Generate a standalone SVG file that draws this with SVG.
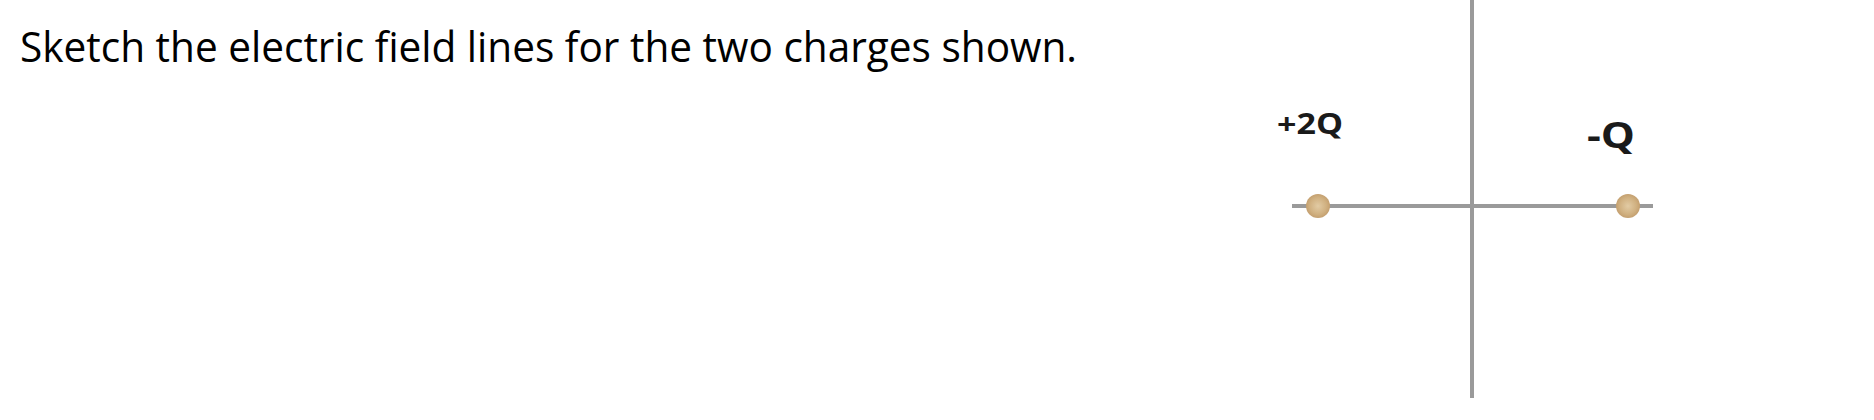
<svg xmlns="http://www.w3.org/2000/svg" width="1874" height="420" viewBox="0 0 1874 420">
  <style>
    .title { font-family: "Open Sans", "Liberation Sans", sans-serif; font-size: 42px; fill: #000; }
    .lbl { font-family: "Open Sans", "Liberation Sans", sans-serif; font-weight: bold; fill: #1a1a1a; }
    .axis { stroke: #9a9a9a; stroke-width: 4; fill: none; }
    .charge { fill: url(#cg); }
  </style>
  <defs>
    <radialGradient id="cg" cx="0.5" cy="0.5" r="0.5">
      <stop offset="0" stop-color="#e2cba4"/>
      <stop offset="0.7" stop-color="#d0b080"/>
      <stop offset="1" stop-color="#c4a070"/>
    </radialGradient>
  </defs>
  <rect width="1874" height="420" fill="#ffffff"/>
  <text class="title" x="20" y="62" textLength="1057" lengthAdjust="spacingAndGlyphs">Sketch the electric field lines for the two charges shown.</text>
  <g id="connectors">
    <line class="axis" x1="1472" y1="0" x2="1472" y2="398" stroke-width="3.5"/>
    <line class="axis" x1="1292" y1="206" x2="1653" y2="206"/>
  </g>
  <g id="charge-plus2Q">
    <circle class="charge" cx="1318" cy="206" r="12"/>
    <text class="lbl" x="1277" y="134" font-size="29" textLength="66" lengthAdjust="spacingAndGlyphs">+2Q</text>
  </g>
  <g id="charge-minusQ">
    <circle class="charge" cx="1628" cy="206" r="12"/>
    <text class="lbl" x="1587" y="148" font-size="36" textLength="48" lengthAdjust="spacingAndGlyphs">-Q</text>
  </g>
</svg>
